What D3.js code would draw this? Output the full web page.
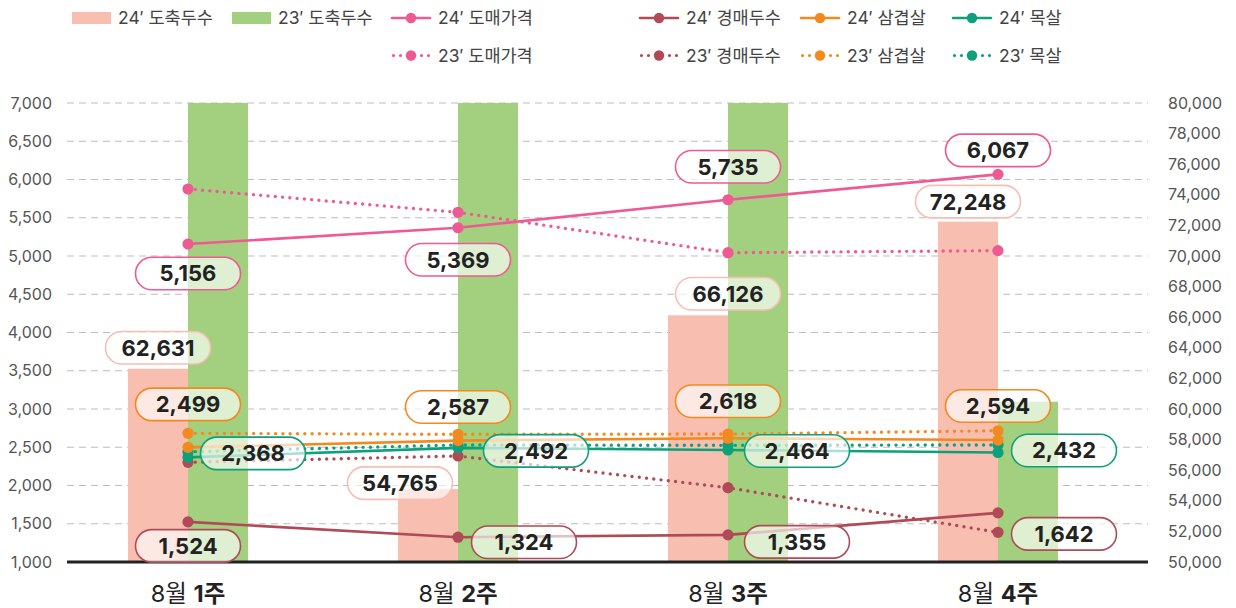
<!DOCTYPE html>
<html><head><meta charset="utf-8">
<script src="https://cdn.jsdelivr.net/npm/d3@7"></script>
<style>
html,body{margin:0;padding:0;background:#fff;}
svg{display:block;font-family:Inter,"Noto Sans CJK KR",sans-serif;}
</style></head><body>
<svg id="c" width="1236" height="608"></svg>
<script>
// ---- data ----
const weeks = ["1주","2주","3주","4주"];
const monthLabel = "8월";
const slaughter24 = [62631, 54765, 66126, 72248];
const slaughter23 = [80000, 80000, 80000, 60480];
const price24 = [5156, 5369, 5735, 6067];
const price23 = [5876, 5571, 5043, 5070];
const auction24 = [1524, 1324, 1355, 1642];
const auction23 = [2303, 2386, 1971, 1388];
const belly24 = [2499, 2587, 2618, 2594];
const belly23 = [2682, 2669, 2673, 2716];
const neck24 = [2368, 2492, 2464, 2432];
const neck23 = [2440, 2530, 2525, 2530];
const leftTicks = d3.range(1000, 7001, 500);
const rightTicks = d3.range(50000, 80001, 2000);

// ---- layout / style ----
const C = {bar24:"#F8BFB1", bar23:"#A2D07F", price:"#EE5B93", auction:"#B04A57", belly:"#F28A1F", neck:"#0DA07A"};
const svg = d3.select("#c");
const x = d3.scaleBand().domain(weeks).range([53, 1133]);
const cx = d => x(d) + x.bandwidth()/2;
const yL = d3.scaleLinear().domain([1000, 7000]).range([562, 103]);
const yR = d3.scaleLinear().domain([50000, 80000]).range([562, 103]).clamp(true);
const barW = 60;
const fmt = d3.format(",");

// grid
svg.append("g").selectAll("line").data(leftTicks.slice(1)).join("line")
  .attr("x1", 67).attr("x2", 1148)
  .attr("y1", d => yL(d)).attr("y2", d => yL(d))
  .attr("stroke", "#bdbdbd").attr("stroke-width", 1.2).attr("stroke-dasharray", "7,5");

// left axis labels
svg.append("g").selectAll("text").data(leftTicks).join("text")
  .attr("x", 52).attr("y", d => yL(d)).attr("dy", "0.35em")
  .attr("text-anchor", "end").attr("font-size", 16).attr("fill", "#555")
  .text(d => fmt(d));
// right axis labels
svg.append("g").selectAll("text").data(rightTicks).join("text")
  .attr("x", 1168).attr("y", d => yR(d)).attr("dy", "0.35em")
  .attr("text-anchor", "start").attr("font-size", 16).attr("fill", "#555")
  .text(d => fmt(d));

// bars
const bars = svg.append("g");
bars.selectAll("rect.b24").data(weeks).join("rect").attr("class","b24")
  .attr("x", d => cx(d) - barW).attr("width", barW)
  .attr("y", (d,i) => yR(slaughter24[i])).attr("height", (d,i) => 562 - yR(slaughter24[i]))
  .attr("fill", C.bar24);
bars.selectAll("rect.b23").data(weeks).join("rect").attr("class","b23")
  .attr("x", d => cx(d)).attr("width", barW)
  .attr("y", (d,i) => yR(slaughter23[i])).attr("height", (d,i) => 562 - yR(slaughter23[i]))
  .attr("fill", C.bar23);

// baseline
svg.append("line").attr("x1", 67).attr("x2", 1148).attr("y1", 562).attr("y2", 562)
  .attr("stroke", "#222").attr("stroke-width", 3.2);

// lines
const series = [
  {vals: price23, color: C.price, dotted: true},
  {vals: auction23, color: C.auction, dotted: true},
  {vals: neck23, color: C.neck, dotted: true},
  {vals: belly23, color: C.belly, dotted: true},
  {vals: price24, color: C.price, dotted: false},
  {vals: auction24, color: C.auction, dotted: false},
  {vals: neck24, color: C.neck, dotted: false},
  {vals: belly24, color: C.belly, dotted: false},
];
const line = d3.line().x((v,i) => cx(weeks[i])).y(v => yL(v));
series.forEach(s => {
  const g = svg.append("g");
  g.append("path").attr("d", line(s.vals)).attr("fill", "none")
    .attr("stroke", s.color)
    .attr("stroke-width", s.dotted ? 3.4 : 2.6)
    .attr("stroke-linecap", "round")
    .attr("stroke-dasharray", s.dotted ? "0,7.3" : null);
  g.selectAll("circle").data(s.vals).join("circle")
    .attr("cx", (v,i) => cx(weeks[i])).attr("cy", v => yL(v)).attr("r", 5.6)
    .attr("fill", s.color);
});

// labels
const labelOffsets = {
  bar:    [[0,-21],[-28,-6],[30,-21.5],[0,-20]],
  price:  [[0,29.5],[0,32],[0,-33],[0,-24]],
  belly:  [[0,-43],[0,-33.6],[0,-37],[0,-34]],
  neck:   [[65,-4],[78,3],[69,1],[66,-2]],
  auction:[[0,24],[66,5],[69,7],[66,21]]
};
const labelSets = [
  {vals: slaughter24, color: C.bar24, off: labelOffsets.bar, bar: true},
  {vals: price24, color: C.price, off: labelOffsets.price},
  {vals: belly24, color: C.belly, off: labelOffsets.belly},
  {vals: neck24, color: C.neck, off: labelOffsets.neck},
  {vals: auction24, color: C.auction, off: labelOffsets.auction},
];
const LW = 105, LH = 32.5;
const lg = svg.append("g");
labelSets.forEach(s => {
  s.vals.forEach((v,i) => {
    const px = s.bar ? cx(weeks[i]) - barW/2 : cx(weeks[i]);
    const py = s.bar ? yR(v) : yL(v);
    const lx = px + s.off[i][0], ly = py + s.off[i][1];
    lg.append("rect").attr("x", lx - LW/2).attr("y", ly - LH/2)
      .attr("width", LW).attr("height", LH).attr("rx", LH/2)
      .attr("fill", "#fff").attr("fill-opacity", 0.65)
      .attr("stroke", s.color).attr("stroke-width", 1.6);
    lg.append("text").attr("x", lx).attr("y", ly).attr("dy", "0.36em")
      .attr("text-anchor", "middle").attr("font-size", 22).attr("font-weight", 700)
      .attr("fill", "#222").text(fmt(v));
  });
});

// x axis labels
const xl = svg.append("g").selectAll("text").data(weeks).join("text")
  .attr("x", d => cx(d)).attr("y", 602).attr("text-anchor", "middle")
  .attr("font-size", 23.5).attr("fill", "#222");
xl.append("tspan").attr("font-weight", 400).text(monthLabel + " ");
xl.append("tspan").attr("font-weight", 700).text(d => d);

// legend
const legendItems = [
  {label:"24′ 도축두수", type:"rect", color:C.bar24, x:72, row:0},
  {label:"23′ 도축두수", type:"rect", color:C.bar23, x:232, row:0},
  {label:"24′ 도매가격", type:"line", color:C.price, x:392, row:0},
  {label:"24′ 경매두수", type:"line", color:C.auction, x:640, row:0},
  {label:"24′ 삼겹살", type:"line", color:C.belly, x:801, row:0},
  {label:"24′ 목살", type:"line", color:C.neck, x:953, row:0},
  {label:"23′ 도매가격", type:"dot", color:C.price, x:392, row:1},
  {label:"23′ 경매두수", type:"dot", color:C.auction, x:640, row:1},
  {label:"23′ 삼겹살", type:"dot", color:C.belly, x:801, row:1},
  {label:"23′ 목살", type:"dot", color:C.neck, x:953, row:1},
];
const leg = svg.append("g");
legendItems.forEach(it => {
  const yy = it.row === 0 ? 18 : 55.5;
  if (it.type === "rect") {
    leg.append("rect").attr("x", it.x).attr("y", yy - 6).attr("width", 39).attr("height", 12).attr("fill", it.color);
  } else {
    leg.append("line").attr("x1", it.x + (it.type==="dot"?1.5:0)).attr("x2", it.x + 38).attr("y1", yy).attr("y2", yy)
      .attr("stroke", it.color).attr("stroke-width", it.type==="dot" ? 3.2 : 2.6)
      .attr("stroke-linecap", "round").attr("stroke-dasharray", it.type==="dot" ? "0,7" : null);
    leg.append("circle").attr("cx", it.x + 19).attr("cy", yy).attr("r", 5.2).attr("fill", it.color);
  }
  leg.append("text").attr("x", it.x + 46).attr("y", yy).attr("dy", "0.36em")
    .attr("font-size", 17.5).attr("fill", "#444").text(it.label);
});
</script>
</body></html>
